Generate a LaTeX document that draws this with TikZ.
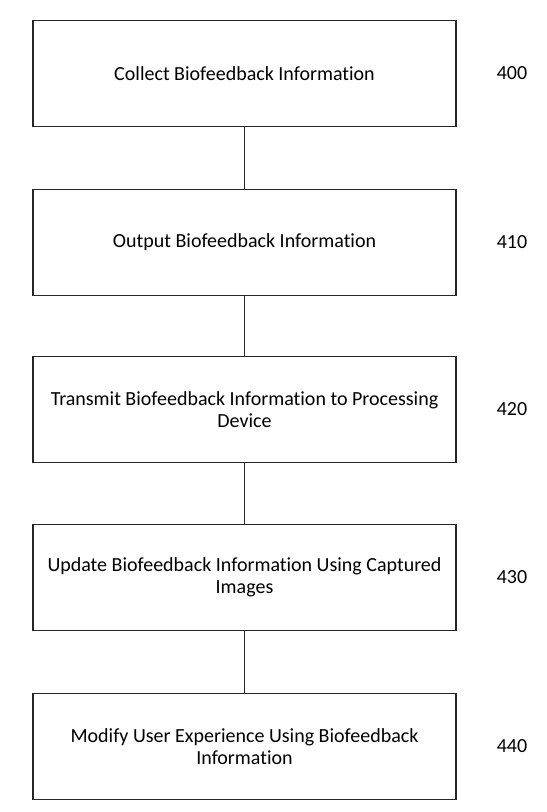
\documentclass[tikz,border=0pt]{standalone}
\usepackage{fontspec}
\setmainfont[RawFeature=-liga]{Carlito}
\begin{document}
\begin{tikzpicture}[x=0.75pt,y=-0.75pt,
  stepbox/.style={draw=black!85,line width=0.9pt,minimum width=423*0.75pt,minimum height=106*0.75pt,align=center,font=\fontsize{15}{16.5}\selectfont,inner sep=0pt},
  lab/.style={font=\fontsize{15}{18}\selectfont},
  conn/.style={draw=black!85,line width=0.9pt}]
\useasboundingbox (0,0) rectangle (546,812);
\node[stepbox] (b0) at (244.5,73.5) {Collect Biofeedback Information};
\node[stepbox] (b1) at (244.5,242.5) {Output Biofeedback Information};
\node[stepbox] (b2) at (244.5,409.5) {Transmit Biofeedback Information to Processing\\Device};
\node[stepbox] (b3) at (244.5,577.5) {Update Biofeedback Information Using Captured\\Images};
\node[stepbox] (b4) at (244.5,746.5) {Modify User Experience Using Biofeedback\\Information};
\node[lab] (l0) at (512,73.5) {400};
\node[lab] (l1) at (512,242.5) {410};
\node[lab] (l2) at (512,409.5) {420};
\node[lab] (l3) at (512,577.5) {430};
\node[lab] (l4) at (512,746.5) {440};
\draw[conn] (b0) -- (b1);
\draw[conn] (b1) -- (b2);
\draw[conn] (b2) -- (b3);
\draw[conn] (b3) -- (b4);
\end{tikzpicture}
\end{document}
